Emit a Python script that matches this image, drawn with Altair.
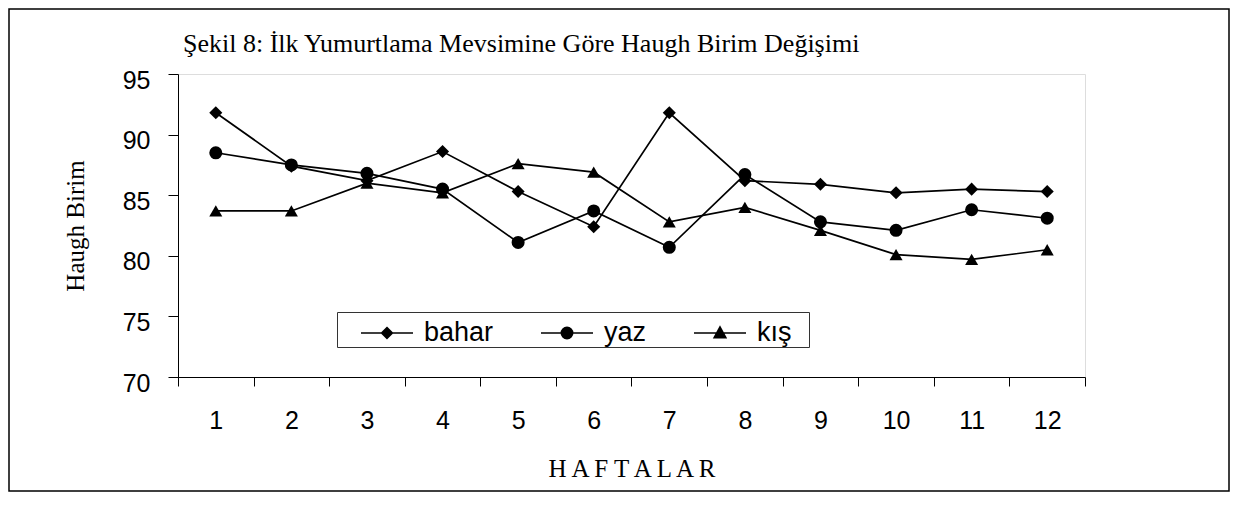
import altair as alt
import pandas as pd

weeks = list(range(1, 13))
series_names = ["bahar", "yaz", "kış"]
bahar = [91.8, 87.4, 86.2, 88.6, 85.3, 82.4, 91.8, 86.2, 85.9, 85.2, 85.5, 85.3]
yaz = [88.5, 87.5, 86.8, 85.5, 81.1, 83.7, 80.7, 86.7, 82.8, 82.1, 83.8, 83.1]
kis = [83.7, 83.7, 86.0, 85.2, 87.6, 86.9, 82.8, 84.0, 82.1, 80.1, 79.7, 80.5]
y_ticks = [70, 75, 80, 85, 90, 95]
marker_shapes = ["diamond", "circle", "triangle-up"]

rows = []
for name, vals in zip(series_names, [bahar, yaz, kis]):
    for w, v in zip(weeks, vals):
        rows.append({"week": w, "value": v, "series": name})
df = pd.DataFrame(rows)

SANS = "Liberation Sans"
SERIF = "Liberation Serif"

x_enc = alt.X(
    "week:O",
    bandPosition=0.5,
    title="H A F T A L A R",
    scale=alt.Scale(type="band", paddingInner=0, paddingOuter=0),
    axis=alt.Axis(
        labelAngle=0, tickBand="extent", tickSize=9, labelPadding=22,
        labelFont=SANS, labelFontSize=25, labelColor="black",
        domainColor="black", tickColor="black", domainWidth=1, tickWidth=1,
        titleFont=SERIF, titleFontSize=25, titleFontWeight="normal", titleColor="black",
        titleX=453.5, titleY=99, titleBaseline="alphabetic", titleAlign="center",
        grid=False,
    ),
)
y_enc = alt.Y(
    "value:Q",
    title="Haugh  Birim",
    scale=alt.Scale(domain=[70, 95], nice=False, zero=False),
    axis=alt.Axis(
        values=y_ticks, tickSize=10, labelPadding=18, labelOffset=6,
        labelFont=SANS, labelFontSize=25, labelColor="black",
        domainColor="black", tickColor="black", domainWidth=1, tickWidth=1,
        titleFont=SERIF, titleFontSize=25, titleFontWeight="normal", titleColor="black",
        titleX=-103, titleY=151.5, titleAngle=270, titleBaseline="middle", titleAlign="center",
        grid=False,
    ),
)

lines = alt.Chart(df).mark_line(color="black", strokeWidth=1.7).encode(
    x=x_enc, y=y_enc, detail="series:N"
)

point_layers = []
for name, shp in zip(series_names, marker_shapes):
    point_layers.append(
        alt.Chart(df)
        .transform_filter(alt.datum.series == name)
        .mark_point(filled=True, color="black", opacity=1, size=170, shape=shp)
        .encode(x=x_enc, y=y_enc)
    )


def fmt(v):
    return f"{v:.3f}"


def nested_diamond(cx, r_max):
    parts = []
    r = r_max
    while r > 0:
        parts.append(f"M{fmt(cx)},{fmt(-r)}L{fmt(cx + r)},0L{fmt(cx)},{fmt(r)}L{fmt(cx - r)},0Z")
        r -= 0.09
    return "".join(parts)


def nested_circle(cx, r_max):
    parts = []
    r = r_max
    while r > 0:
        parts.append(
            f"M{fmt(cx - r)},0A{fmt(r)},{fmt(r)} 0 1,0 {fmt(cx + r)},0"
            f"A{fmt(r)},{fmt(r)} 0 1,0 {fmt(cx - r)},0Z"
        )
        r -= 0.09
    return "".join(parts)


def nested_triangle(cx, r_max):
    parts = []
    r = r_max
    while r > 0:
        parts.append(
            f"M{fmt(cx)},{fmt(-r)}L{fmt(cx + r * 0.95)},{fmt(r * 0.75)}"
            f"L{fmt(cx - r * 0.95)},{fmt(r * 0.75)}Z"
        )
        r -= 0.08
    return "".join(parts)


LINE = "M-1,0H3"
path_bahar = LINE + nested_diamond(1, 0.42)
path_yaz = LINE + nested_circle(1, 0.44)
path_kis = LINE + nested_triangle(1, 0.48)

legend_layer = alt.Chart(df).transform_filter("false").mark_point(
    filled=False, color="black", size=676, strokeWidth=1.5
).encode(
    shape=alt.Shape(
        "series:N",
        scale=alt.Scale(domain=series_names, range=[path_bahar, path_yaz, path_kis]),
        legend=alt.Legend(
            orient="none", legendX=182, legendY=245, direction="horizontal",
            columnPadding=44, padding=0,
            labelFont=SANS, labelFontSize=27, labelColor="black", labelOffset=36,
            labelBaseline="middle",
            symbolSize=676, symbolStrokeColor="black",
            symbolStrokeWidth=1.5, symbolOpacity=1,
            title=None,
        ),
    ),
)

one_row = alt.Data(values=[{"f": 1}])

frame = alt.Chart(one_row).mark_rect(
    fill="transparent", stroke="black", strokeWidth=1.5
).encode(
    x=alt.value(-169), x2=alt.value(1051), y=alt.value(-65), y2=alt.value(417)
)

legend_box = alt.Chart(one_row).mark_rect(
    fill="white", stroke="#333333", strokeWidth=1
).encode(
    x=alt.value(159.5), x2=alt.value(631.5), y=alt.value(238.5), y2=alt.value(273.5)
)

chart = alt.layer(frame, legend_box, lines, *point_layers, legend_layer).properties(
    width=907,
    height=303,
    padding={"left": 170, "top": 66, "right": 145, "bottom": 115},
    autosize=alt.AutoSizeParams(type="none"),
    title=alt.TitleParams(
        "Şekil 8: İlk Yumurtlama Mevsimine Göre Haugh Birim Değişimi",
        anchor="start", frame="group", font=SERIF, fontSize=26,
        fontWeight="normal", color="black", dx=5, dy=67, offset=18,
    ),
).configure_view(strokeWidth=0, stroke="transparent").configure(background="white")

chart.save("out.html", embed_options={"renderer": "svg", "actions": False})
